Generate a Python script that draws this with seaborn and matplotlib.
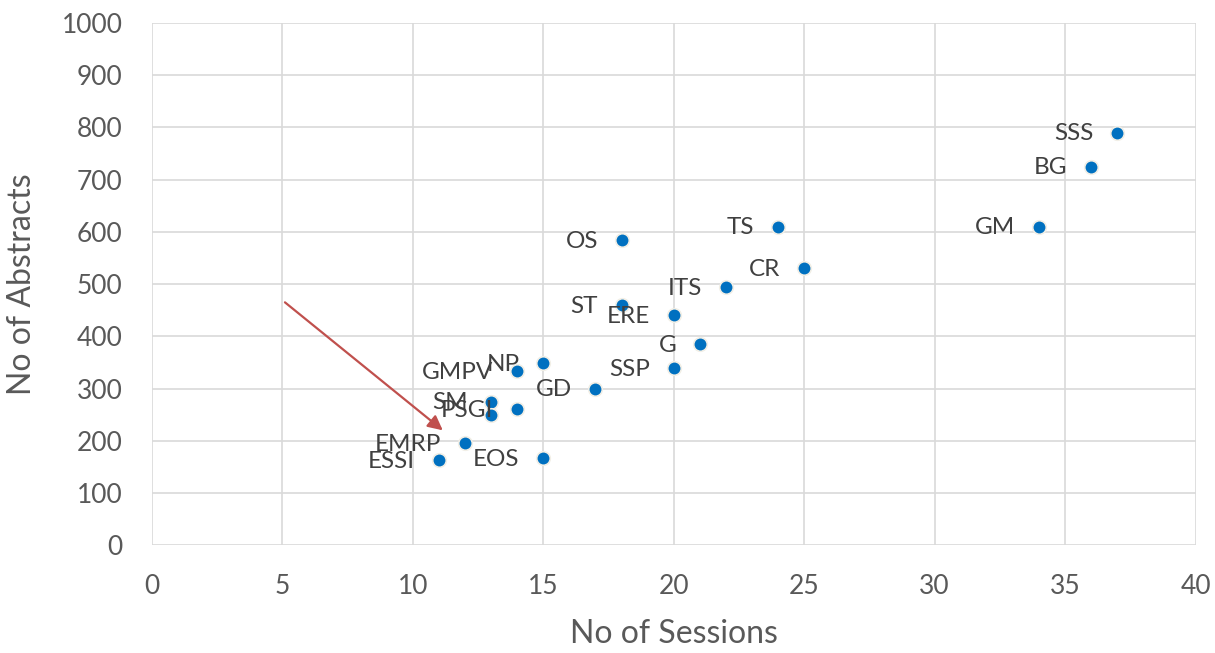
import matplotlib
matplotlib.use("Agg")
import matplotlib.pyplot as plt
import seaborn as sns
import pandas as pd

# values
labels = ["SSS", "BG", "GM", "TS", "CR", "OS", "ITS", "ST", "ERE", "G",
          "SSP", "NP", "GMPV", "GD", "SM", "", "PSGI", "EMRP", "ESSI", "EOS"]
sessions = [37, 36, 34, 24, 25, 18, 22, 18, 20, 21,
            20, 15, 14, 17, 13, 13, 14, 12, 11, 15]
abstracts = [790, 725, 610, 610, 530, 585, 495, 460, 440, 385,
             340, 348, 333, 300, 275, 250, 260, 195, 163, 167]

xticks = [0, 5, 10, 15, 20, 25, 30, 35, 40]
yticks = [0, 100, 200, 300, 400, 500, 600, 700, 800, 900, 1000]

# arrow pointing into the crowded low-session cluster
arrow_start = (5.1, 465)
arrow_end = (11.15, 220)

df = pd.DataFrame({"label": labels, "sessions": sessions, "abstracts": abstracts})

sns.set_theme(style="white")
plt.rcParams["font.family"] = ["Lato", "DejaVu Sans"]

text_col = "#595959"
grid_col = "#d9d9d9"

fig = plt.figure(figsize=(12.15, 6.53), dpi=100)
ax = fig.add_axes([0.125, 0.165, 0.859, 0.8])

sns.scatterplot(data=df, x="sessions", y="abstracts", ax=ax,
                color="#0070C0", s=95, edgecolor="#f2efe6", linewidth=1.2,
                zorder=3)

for _, row in df.iterrows():
    if row["label"]:
        ax.annotate(row["label"], (row["sessions"], row["abstracts"]),
                    xytext=(-17, -1), textcoords="offset points",
                    ha="right", va="center", fontsize=17.5, color="#404040",
                    zorder=4)

ax.annotate("", xy=arrow_end, xytext=arrow_start,
            arrowprops=dict(arrowstyle="-|>", color="#C0504D", lw=1.6,
                            mutation_scale=22, shrinkA=0, shrinkB=0),
            zorder=5)

ax.set_xlim(0, 40)
ax.set_ylim(0, 1000)
ax.set_xticks(xticks)
ax.set_yticks(yticks)
ax.grid(True, color=grid_col, linewidth=1.2)
ax.set_axisbelow(True)
for side in ["top", "right", "bottom", "left"]:
    ax.spines[side].set_visible(False)
ax.tick_params(axis="y", length=0, labelsize=19, colors=text_col, pad=21)
ax.tick_params(axis="x", length=0, labelsize=19, colors=text_col, pad=21)

ax.set_xlabel("No of Sessions", fontsize=23, color=text_col, labelpad=14)
ax.set_ylabel("No of Abstracts", fontsize=23, color=text_col, labelpad=18)

fig.savefig("out.png", dpi=100)
